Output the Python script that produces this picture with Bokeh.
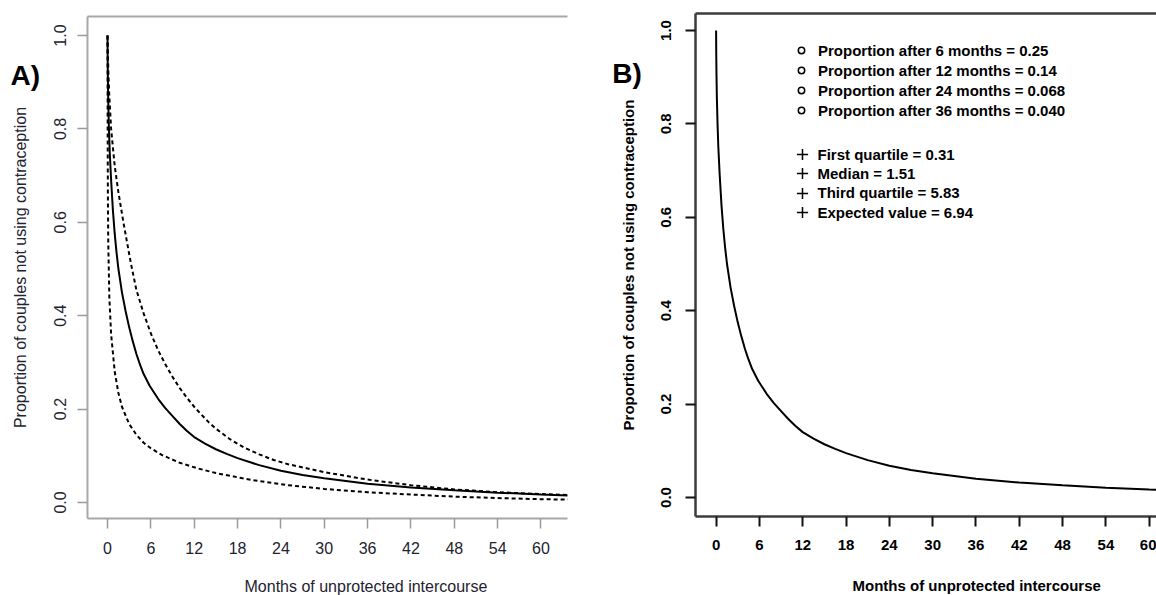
import math
from bokeh.plotting import figure
from bokeh.layouts import row, column
from bokeh.models import (FixedTicker, PrintfTickFormatter, LinearAxis, Range1d,
                          Legend, LegendItem, ColumnDataSource, Label)
from bokeh.embed import file_html
from bokeh.resources import INLINE

# ---------------- data ----------------
x_ticks = [0, 6, 12, 18, 24, 30, 36, 42, 48, 54, 60]
y_ticks = [0.0, 0.2, 0.4, 0.6, 0.8, 1.0]

# point estimate of the survival curve (months, proportion)
est_months = [0, 0.02, 0.05, 0.1, 0.2, 0.31, 0.5, 0.75, 1.0, 1.25, 1.51, 2, 2.5,
              3, 3.5, 4, 4.5, 5, 5.83, 7, 8, 9, 10, 11, 12, 13.5, 15, 16.5, 18,
              21, 24, 27, 30, 33, 36, 42, 48, 54, 60, 66, 72]
est_prop = [1.0, 0.95, 0.91, 0.86, 0.80, 0.75, 0.69, 0.625, 0.575, 0.535, 0.50,
            0.45, 0.41, 0.375, 0.345, 0.318, 0.295, 0.275, 0.25, 0.222, 0.202,
            0.185, 0.168, 0.153, 0.14, 0.126, 0.114, 0.104, 0.095, 0.080, 0.068,
            0.059, 0.052, 0.046, 0.040, 0.032, 0.026, 0.021, 0.017, 0.014, 0.012]

# upper dashed band
upper_months = [0, 0.1, 0.25, 0.5, 1.0, 1.5, 2.2, 3.2, 4, 5, 6, 7, 8, 9, 10, 11,
                12, 13, 14, 15, 17, 19, 21, 23, 25, 30, 36, 42, 48, 54, 60, 66, 72]
upper_prop = [1.0, 0.93, 0.87, 0.80, 0.72, 0.665, 0.60, 0.515, 0.455, 0.405,
              0.362, 0.326, 0.296, 0.269, 0.245, 0.224, 0.205, 0.188, 0.172,
              0.158, 0.135, 0.117, 0.103, 0.091, 0.082, 0.065, 0.049, 0.037,
              0.028, 0.022, 0.018, 0.015, 0.013]

# lower dashed band
lower_months = [0, 0.02, 0.05, 0.1, 0.25, 0.5, 1, 1.5, 2, 3, 4, 5, 6, 7.5, 10,
                12.5, 15, 20, 25, 30, 36, 42, 48, 54, 60, 66, 72]
lower_prop = [1.0, 0.80, 0.66, 0.56, 0.44, 0.36, 0.28, 0.235, 0.205, 0.168, 0.145,
              0.128, 0.116, 0.102, 0.085, 0.073, 0.063, 0.048, 0.037, 0.029,
              0.022, 0.017, 0.0125, 0.0095, 0.007, 0.0058, 0.005]

prop_months = [6, 12, 24, 36]
prop_values = ["0.25", "0.14", "0.068", "0.040"]
stat_names = ["First quartile", "Median", "Third quartile", "Expected value"]
stat_values = ["0.31", "1.51", "5.83", "6.94"]
stat_levels = [0.75, 0.50, 0.25, 0.22]

x_title = "Months of unprotected intercourse"
y_title = "Proportion of couples not using contraception"

FONT = "Liberation Sans"
A_TXT = "#23232f"


def style_axes(p, line_color, line_w, tick_color, tick_w, txt_color, size, fstyle,
               xlab_standoff, ylab_standoff):
    xa = p.xaxis[0]
    ya = p.yaxis[0]
    xa.ticker = FixedTicker(ticks=x_ticks, minor_ticks=[])
    ya.ticker = FixedTicker(ticks=y_ticks, minor_ticks=[])
    ya.formatter = PrintfTickFormatter(format="%.1f")
    ya.major_label_orientation = "vertical"
    for ax in (xa, ya):
        ax.axis_line_color = line_color
        ax.axis_line_width = line_w
        ax.major_tick_line_color = tick_color
        ax.major_tick_line_width = tick_w
        ax.major_tick_in = 0
        ax.major_tick_out = 10
        ax.minor_tick_line_color = None
        ax.major_label_text_font = FONT
        ax.major_label_text_font_size = size
        ax.major_label_text_font_style = fstyle
        ax.major_label_text_color = txt_color
    xa.major_label_standoff = xlab_standoff
    ya.major_label_standoff = ylab_standoff
    top = LinearAxis(ticker=FixedTicker(ticks=[], minor_ticks=[]),
                     axis_line_color=line_color, axis_line_width=line_w,
                     major_tick_out=0, major_tick_in=0, minor_tick_out=0,
                     minor_tick_in=0, major_label_standoff=0,
                     major_label_text_font_size="0px")
    p.add_layout(top, "above")


def strip(w, h, frame_top=0, frame_bottom=None):
    """Plain text strip (no axes, no title). Its y range is set so that a data
    value equals (h - pixel row), also when the row layout aligns its frame
    with the neighbouring plot's frame (frame_top .. frame_bottom)."""
    if frame_bottom is None:
        frame_bottom = h
    return figure(width=w, height=h, output_backend="svg", toolbar_location=None,
                  title=None, x_range=Range1d(0, w),
                  y_range=Range1d(h - frame_bottom, h - frame_top),
                  x_axis_type=None, y_axis_type=None, min_border=0,
                  outline_line_color=None)


def txt(p, x, y, text, size, fstyle, color, align="left", baseline="middle", angle=0.0):
    p.add_layout(Label(x=x, y=y, text=text, text_font=FONT, text_font_size=size,
                       text_font_style=fstyle, text_color=color, text_align=align,
                       text_baseline=baseline, angle=angle))


# ---------------- Panel A ----------------
HA = 562
pa = figure(width=540, height=HA, output_backend="svg", toolbar_location=None,
            title=None,
            x_range=Range1d(-2.77, 63.67), y_range=Range1d(-0.0343, 1.0407),
            min_border_left=47, min_border_right=13, min_border_top=16,
            min_border_bottom=44, outline_line_color=None)
pa.grid.visible = False
style_axes(pa, "#a8a8a8", 2, "#9a9a9a", 1.5, A_TXT, "16px", "normal", 13, 11)

pa.line(upper_months, upper_prop, line_color="black", line_width=2, line_dash="4 3")
pa.line(lower_months, lower_prop, line_color="black", line_width=2, line_dash="4 3")
pa.line(est_months, est_prop, line_color="black", line_width=2)

sa = strip(40, HA, frame_top=16, frame_bottom=518)
txt(sa, 10, HA - 59, "A)", "28px", "bold", "black", baseline="top")
txt(sa, 19.6, HA - 267, y_title, "16px", "normal", A_TXT, align="center",
    angle=math.pi / 2)

ba = strip(580, 595 - HA)
txt(ba, 244, 9, x_title, "16px", "normal", A_TXT)

panel_a = column(row(sa, pa, spacing=0), ba, spacing=0)

# ---------------- Panel B ----------------
HB = 560
pb = figure(width=511, height=HB, output_backend="svg", toolbar_location=None,
            title=None,
            x_range=Range1d(-2.854, 61.01), y_range=Range1d(-0.0407, 1.0364),
            min_border_left=50, min_border_right=0, min_border_top=13,
            min_border_bottom=44, outline_line_color=None)
pb.grid.visible = False
style_axes(pb, "#3c3c3c", 2.5, "#111111", 2, "black", "15px", "bold", 13, 14)

pb.line(est_months, est_prop, line_color="black", line_width=2)

# marker renderers used only as legend keys (the points themselves are hidden)
circ_src = ColumnDataSource(dict(x=prop_months, y=[float(v) for v in prop_values]))
plus_src = ColumnDataSource(dict(x=[float(v) for v in stat_values], y=stat_levels))
circ = pb.scatter("x", "y", source=circ_src, marker="circle", size=7,
                  fill_color=None, line_color="black", line_width=1.5, visible=False)
plus = pb.scatter("x", "y", source=plus_src, marker="cross", size=11,
                  line_color="black", line_width=1.5, visible=False)

common = dict(orientation="vertical", padding=0, margin=0, spacing=0,
              border_line_color=None, background_fill_alpha=0,
              label_text_font=FONT, label_text_font_size="15px",
              label_text_font_style="bold", label_text_color="black",
              label_text_baseline="middle")

items1 = [LegendItem(label=f"Proportion after {m} months = {v}", renderers=[circ])
          for m, v in zip(prop_months, prop_values)]
pb.add_layout(Legend(items=items1, location=(98, 396), glyph_width=16,
                     glyph_height=20, label_height=20, label_standoff=9, **common))

# one legend per statistic so the "+" keys can be drawn at full size
for i, (n, v) in enumerate(zip(stat_names, stat_values)):
    item = LegendItem(label=f"{n} = {v}", renderers=[plus])
    pb.add_layout(Legend(items=[item], location=(92.5, 348 - 19.4 * i),
                         glyph_width=28, glyph_height=28, label_height=28,
                         label_standoff=2, **common))

sb = strip(65, HB, frame_top=13, frame_bottom=516)
txt(sb, 31.7, HB - 57.3, "B)", "28px", "bold", "black", baseline="top")
txt(sb, 47.8, HB - 264.5, y_title, "15px", "bold", "black", align="center",
    angle=math.pi / 2)

bb = strip(576, 595 - HB)
txt(bb, 272, 10, x_title, "15px", "bold", "black")

panel_b = column(row(sb, pb, spacing=0), bb, spacing=0)

layout = row(panel_a, panel_b, spacing=0)
open("out.html", "w").write(file_html(layout, INLINE))
